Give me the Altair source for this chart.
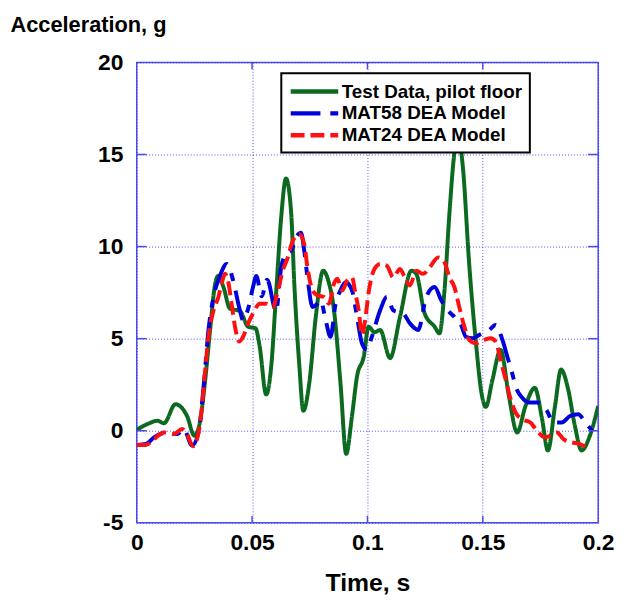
import altair as alt
import pandas as pd

SERIES = ["Test Data, pilot floor", "MAT58 DEA Model", "MAT24 DEA Model"]
COLORS = ["#0b6a1f", "#0000dd", "#ff1010"]

test_t = [0, 0.0046, 0.009, 0.0118, 0.0168, 0.0218, 0.025, 0.0276, 0.0297, 0.0318, 0.034, 0.0354,
          0.0376, 0.0404, 0.0447, 0.0483, 0.0515, 0.0533, 0.0561, 0.0583, 0.0604, 0.0626, 0.0647,
          0.0669, 0.0683, 0.0705, 0.0722, 0.0748, 0.0776, 0.0808, 0.083, 0.0855, 0.0883, 0.0908,
          0.0933, 0.0955, 0.0984, 0.1005, 0.103, 0.1055, 0.1098, 0.1141, 0.1191, 0.1212, 0.1248,
          0.1291, 0.1312, 0.1334, 0.1355, 0.1377, 0.1392, 0.1413, 0.1441, 0.147, 0.1495, 0.1513,
          0.1542, 0.1577, 0.1613, 0.1649, 0.1685, 0.1725, 0.1757, 0.1782, 0.1813, 0.1839, 0.187,
          0.1899, 0.1928, 0.1964, 0.2]
test_y = [0.05, 0.36, 0.54, 0.41, 1.44, 0.8, -0.27, 0.63, 2.78, 5.47, 7.98, 8.42,
          7.8, 6.63, 6.5, 5.65, 5.56, 4.57, 1.97, 3.5, 7.44, 11.56, 13.7,
          11.9, 7.98, 3.5, 1.08, 2.6, 6.18, 8.69, 8.16, 6.54, 2.6, -1.25,
          0.8, 2.96, 4.03, 5.65, 5.35, 5.47, 3.95, 6.18, 8.69, 8.5, 6.37,
          5.65, 5.29, 7.62, 11.74, 15.1, 16.0, 14.4, 9.05, 4.8, 2.0, 1.3,
          2.78, 4.39, 1.88, -0.09, 1.34, 2.33, 0.63, -1.07, 1.34, 3.32, 2.24,
          0.27, -1.07, -0.27, 1.34]

mat58_t = [0, 0.004, 0.0075, 0.0132, 0.0175, 0.0204, 0.024, 0.0268, 0.029, 0.0311, 0.0333, 0.0361,
           0.039, 0.0418, 0.0447, 0.0461, 0.0483, 0.0504, 0.0518, 0.0542, 0.0565, 0.0604, 0.0626,
           0.0647, 0.0669, 0.069, 0.0712, 0.0726, 0.074, 0.0762, 0.0783, 0.0797, 0.0819, 0.084,
           0.0862, 0.0883, 0.0905, 0.0933, 0.0955, 0.0976, 0.0998, 0.1019, 0.1055, 0.1084, 0.1112,
           0.1155, 0.1184, 0.122, 0.1255, 0.1291, 0.132, 0.1348, 0.1377, 0.1406, 0.1427, 0.1456,
           0.1484, 0.1527, 0.1556, 0.1585, 0.1606, 0.1627, 0.1642, 0.167, 0.1699, 0.1735, 0.1778,
           0.1806, 0.1842, 0.1878, 0.1913, 0.1949, 0.1975]
mat58_y = [-0.77, -0.72, -0.36, -0.09, -0.18, 0.09, -0.8, -0.09, 2.42, 5.47, 7.26, 8.42,
           9.05, 8.16, 6.54, 6.0, 6.63, 7.8, 8.4, 7.3, 8.2, 6.5, 8.87,
           9.59, 9.77, 10.48, 10.75, 9.77, 8.33, 6.72, 6.9, 7.08, 6.0, 5.1,
           6.9, 7.62, 8.06, 7.62, 6.18, 4.75, 4.39, 5.1, 6.54, 7.26, 6.54,
           6.37, 5.83, 5.47, 7.26, 7.8, 7.08, 6.54, 6.18, 5.74, 5.1, 5.02,
           5.2, 5.47, 5.74, 4.93, 4.03, 3.14, 2.42, 1.8, 1.53, 1.53, 1.08,
           0.45, 0.45, 0.8, 0.9, 0.36, 0.0]

mat24_t = [0, 0.004, 0.0075, 0.0118, 0.0161, 0.0197, 0.0218, 0.0244, 0.0268, 0.0283, 0.0297, 0.0311,
           0.0333, 0.0354, 0.0368, 0.0383, 0.0397, 0.0411, 0.0426, 0.0444, 0.0461, 0.0483, 0.0504,
           0.0533, 0.0561, 0.059, 0.0612, 0.0633, 0.0655, 0.0676, 0.0705, 0.0726, 0.074, 0.0762,
           0.0783, 0.0812, 0.0833, 0.0855, 0.0869, 0.0891, 0.0912, 0.0933, 0.0948, 0.0962, 0.0976,
           0.099, 0.1005, 0.1027, 0.1055, 0.1084, 0.1112, 0.1141, 0.1162, 0.1184, 0.1212, 0.1241,
           0.127, 0.1306, 0.1334, 0.1355, 0.1377, 0.1398, 0.142, 0.1441, 0.147, 0.1506, 0.1534,
           0.1556, 0.1577, 0.1599, 0.1621, 0.1642, 0.167, 0.1706, 0.1735, 0.177, 0.1792, 0.1821,
           0.1849, 0.1885, 0.1921, 0.1956]
mat24_y = [-0.77, -0.77, -0.45, -0.09, -0.18, 0.09, -0.18, -0.84, -0.09, 1.34, 3.32, 5.1,
           6.54, 7.26, 7.98, 8.52, 8.06, 6.9, 5.65, 4.84, 5.1, 5.83, 6.37,
           6.9, 6.9, 6.72, 7.62, 8.69, 9.41, 10.3, 10.67, 10.13, 8.87, 7.62,
           7.35, 7.26, 6.9, 7.98, 8.25, 7.62, 8.16, 8.33, 7.44, 6.54, 5.2,
           6.0, 7.5, 8.69, 9.05, 8.96, 8.33, 8.78, 8.33, 7.89, 8.69, 8.52,
           8.87, 9.41, 9.14, 8.33, 7.8, 6.72, 5.65, 4.93, 4.75, 4.93, 5.02,
           4.84, 3.85, 2.78, 1.7, 0.99, 0.63, 0.45, 0.0, -0.36, -0.27, -0.09,
           -0.45, -0.63, -0.72, -0.98]

x_ticks = [0, 0.05, 0.1, 0.15, 0.2]
y_ticks = [-5, 0, 5, 10, 15, 20]

frames = []
for name, ts, ys in [(SERIES[0], test_t, test_y), (SERIES[1], mat58_t, mat58_y), (SERIES[2], mat24_t, mat24_y)]:
    frames.append(pd.DataFrame({"t": ts, "y": ys, "series": name, "order": range(len(ts))}))
df = pd.concat(frames, ignore_index=True)

W, H = 466, 465
FONT = "Liberation Sans"
FRAME = "#4b4be6"

xscale = alt.Scale(domain=[0, 0.2], nice=False, zero=False)
yscale = alt.Scale(domain=[-5, 20], nice=False, zero=False)

xaxis = alt.Axis(values=x_ticks, labelExpr="'' + datum.value", title="Time, s", grid=True, domain=False,
                 ticks=False, labelFlush=False, labelPadding=9, titleX=W / 2, titleY=68,
                 titleAlign="center", titleBaseline="alphabetic", titleFontSize=25)
yaxis = alt.Axis(values=y_ticks, labelExpr="'' + datum.value", title="Acceleration, g", grid=True,
                 domain=False, ticks=False, labelFlush=False, labelPadding=14, titleAngle=0,
                 titleAlign="left", titleBaseline="alphabetic", titleX=-128, titleY=-31, titleFontSize=22)

lines = alt.Chart(df).mark_line(strokeWidth=4, interpolate="monotone", clip=True).encode(
    x=alt.X("t:Q", scale=xscale, axis=xaxis),
    y=alt.Y("y:Q", scale=yscale, axis=yaxis),
    color=alt.Color("series:N", scale=alt.Scale(domain=SERIES, range=COLORS),
                    legend=alt.Legend(title=None, orient="none", legendX=146, legendY=11,
                                      symbolType="M-1,0H4.333", symbolSize=324, symbolStrokeWidth=4.5,
                                      symbolFillColor="transparent",
                                      labelFont=FONT, labelFontSize=19, labelFontWeight="bold",
                                      labelColor="black", labelOffset=31, rowPadding=0, labelLimit=400,
                                      padding=7, fillColor="white", strokeColor="black")),
    strokeDash=alt.StrokeDash("series:N", scale=alt.Scale(domain=SERIES, range=[[1, 0], [30, 10, 8, 10], [14, 6]]),
                              legend=alt.Legend(title=None)),
    order="order:Q",
)

tick_df_x = pd.DataFrame({"t": x_ticks[1:-1]})
tick_df_y = pd.DataFrame({"y": y_ticks[1:-1]})

tb = alt.Chart(tick_df_x).mark_rule(color=FRAME, strokeWidth=1.5).encode(
    x=alt.X("t:Q", scale=xscale, title="Time, s"), y=alt.value(H), y2=alt.value(H - 7))
tt = alt.Chart(tick_df_x).mark_rule(color=FRAME, strokeWidth=1.5).encode(
    x=alt.X("t:Q", scale=xscale, title="Time, s"), y=alt.value(0), y2=alt.value(7))
tl = alt.Chart(tick_df_y).mark_rule(color=FRAME, strokeWidth=1.5).encode(
    y=alt.Y("y:Q", scale=yscale, title="Acceleration, g"), x=alt.value(0), x2=alt.value(10))
tr = alt.Chart(tick_df_y).mark_rule(color=FRAME, strokeWidth=1.5).encode(
    y=alt.Y("y:Q", scale=yscale, title="Acceleration, g"), x=alt.value(W), x2=alt.value(W - 10))

shadow = alt.Chart(pd.DataFrame({"a": [0]})).mark_rect(color="black").encode(
    x=alt.value(148), x2=alt.value(396), y=alt.value(17), y2=alt.value(91))

chart = alt.layer(lines, tb, tt, tl, tr, shadow).properties(
    width=W, height=H, autosize="none",
    padding={"left": 130, "top": 52, "right": 17, "bottom": 74},
).configure_view(
    stroke=FRAME, strokeWidth=1.5
).configure_axis(
    labelFont=FONT, labelFontSize=23, labelFontWeight="bold", labelColor="black",
    titleFont=FONT, titleFontSize=23, titleFontWeight="bold", titleColor="black",
    gridColor="#3a3aff", gridDash=[1, 2], gridWidth=1, gridOpacity=0.9,
).configure_axisY(labelBaseline="middle").configure_legend(strokeWidth=2)

chart.save("out.html", embed_options={"renderer": "svg", "actions": False})
